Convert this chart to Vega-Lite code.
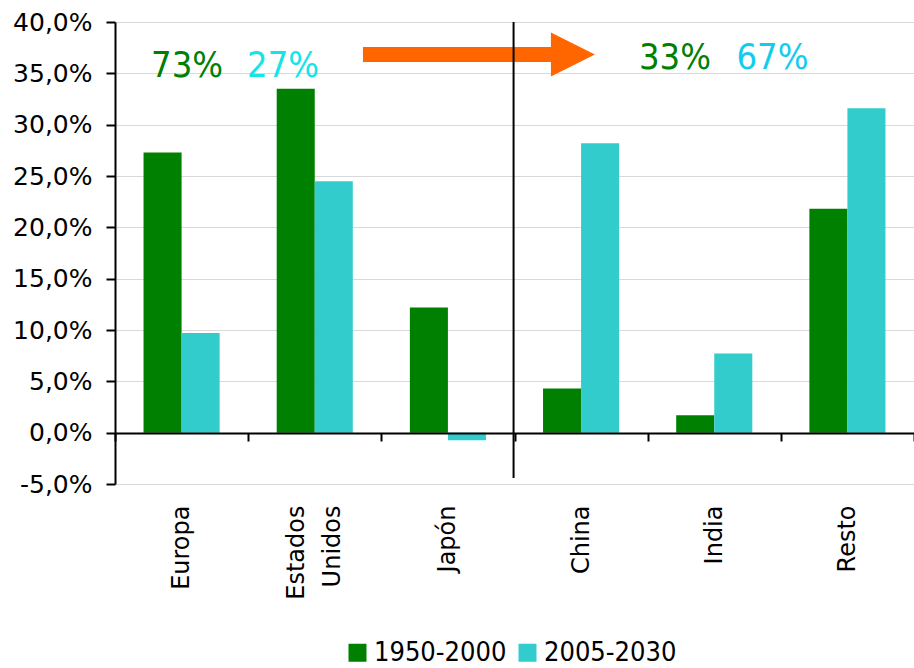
{
  "$schema": "https://vega.github.io/schema/vega-lite/v6.json",
  "width": 799,
  "height": 462,
  "autosize": {"type": "none"},
  "padding": {"left": 115, "top": 22, "right": 0, "bottom": 184},
  "background": "white",
  "config": {"view": {"stroke": null}},
  "layer": [
    {
      "data": {"values": [
        {"region": "Europa", "periodo": "1950-2000", "v": 0.273},
        {"region": "Europa", "periodo": "2005-2030", "v": 0.097},
        {"region": "Estados Unidos", "periodo": "1950-2000", "v": 0.335},
        {"region": "Estados Unidos", "periodo": "2005-2030", "v": 0.245},
        {"region": "Japón", "periodo": "1950-2000", "v": 0.122},
        {"region": "Japón", "periodo": "2005-2030", "v": -0.0075},
        {"region": "China", "periodo": "1950-2000", "v": 0.043},
        {"region": "China", "periodo": "2005-2030", "v": 0.282},
        {"region": "India", "periodo": "1950-2000", "v": 0.017},
        {"region": "India", "periodo": "2005-2030", "v": 0.077},
        {"region": "Resto", "periodo": "1950-2000", "v": 0.218},
        {"region": "Resto", "periodo": "2005-2030", "v": 0.316}
      ]},
      "mark": {"type": "bar"},
      "encoding": {
        "x": {
          "field": "region", "type": "nominal", "title": null,
          "sort": ["Europa", "Estados Unidos", "Japón", "China", "India", "Resto"],
          "scale": {"paddingInner": 0, "paddingOuter": 0},
          "axis": {
            "orient": "bottom", "offset": -51, "zindex": 1,
            "domainColor": "black", "domainWidth": 2,
            "ticks": true, "tickBand": "extent", "tickSize": 8, "tickWidth": 2, "tickColor": "black",
            "labelAngle": -90, "labelAlign": "right", "labelBaseline": "middle",
            "labelPadding": 64, "labelFont": "DejaVu Sans", "labelFontSize": 24, "labelColor": "black",
            "labelLineHeight": 36,
            "labelOffset": {"condition": {"test": "datum.value == 'Estados Unidos'", "value": -18}, "value": 0},
            "labelExpr": "datum.label == 'Estados Unidos' ? ['Estados', 'Unidos'] : datum.label",
            "grid": false
          }
        },
        "xOffset": {"field": "periodo", "type": "nominal", "scale": {"paddingInner": 0, "paddingOuter": 0.75}},
        "y": {
          "field": "v", "type": "quantitative", "title": null,
          "scale": {"domain": [-0.05, 0.4], "nice": false, "zero": false},
          "axis": {
            "values": [-0.05, 0, 0.05, 0.1, 0.15, 0.2, 0.25, 0.3, 0.35, 0.4],
            "labelExpr": "(datum.value < 0 ? '-' : '') + replace(format(abs(datum.value), '.1%'), '.', ',')",
            "domainColor": "black", "domainWidth": 2,
            "tickColor": "black", "tickWidth": 2, "tickSize": 9,
            "labelPadding": 14, "labelFont": "DejaVu Sans", "labelFontSize": 25, "labelColor": "black",
            "grid": true, "gridColor": "#d9d9d9", "gridWidth": 1
          }
        },
        "color": {
          "field": "periodo", "type": "nominal",
          "scale": {"domain": ["1950-2000", "2005-2030"], "range": ["#008000", "#33CCCC"]},
          "legend": {
            "orient": "none", "legendX": 229, "legendY": 617, "direction": "horizontal", "title": null,
            "symbolType": "square", "symbolSize": 324, "symbolStrokeWidth": 0,
            "labelFont": "DejaVu Sans Condensed", "labelFontSize": 27, "labelColor": "black",
            "labelOffset": 3, "columnPadding": 7
          }
        }
      }
    },
    {
      "layer": [
        {
          "data": {"values": [{"pos": 1.862, "pos2": 3.28, "v": 0.3683}]},
          "mark": {"type": "rule", "color": "#FF6600", "strokeWidth": 15, "strokeCap": "butt"},
          "encoding": {
            "x": {"field": "pos", "type": "quantitative", "scale": {"domain": [0, 6], "nice": false, "zero": false}, "axis": null},
            "x2": {"field": "pos2"},
            "y": {
              "field": "v", "type": "quantitative", "title": null,
              "axis": {
                "values": [-0.05, 0, 0.05, 0.1, 0.15, 0.2, 0.25, 0.3, 0.35, 0.4],
                "labelExpr": "(datum.value < 0 ? '-' : '') + replace(format(abs(datum.value), '.1%'), '.', ',')",
                "domainColor": "black", "domainWidth": 2,
                "tickColor": "black", "tickWidth": 2, "tickSize": 9,
                "labelPadding": 14, "labelFont": "DejaVu Sans", "labelFontSize": 25, "labelColor": "black",
                "grid": true, "gridColor": "#d9d9d9", "gridWidth": 1
              }
            }
          }
        },
        {
          "data": {"values": [{"pos": 3.439, "v": 0.3683}]},
          "mark": {"type": "point", "shape": "M-1,-1L1,0L-1,1Z", "filled": true, "fill": "#FF6600", "opacity": 1, "strokeWidth": 0, "size": 1936},
          "encoding": {
            "x": {"field": "pos", "type": "quantitative", "axis": null},
            "y": {
              "field": "v", "type": "quantitative", "title": null,
              "axis": {
                "values": [-0.05, 0, 0.05, 0.1, 0.15, 0.2, 0.25, 0.3, 0.35, 0.4],
                "labelExpr": "(datum.value < 0 ? '-' : '') + replace(format(abs(datum.value), '.1%'), '.', ',')",
                "domainColor": "black", "domainWidth": 2,
                "tickColor": "black", "tickWidth": 2, "tickSize": 9,
                "labelPadding": 14, "labelFont": "DejaVu Sans", "labelFontSize": 25, "labelColor": "black",
                "grid": true, "gridColor": "#d9d9d9", "gridWidth": 1
              }
            }
          }
        },
        {
          "data": {"values": [{"pos": 2.993, "v": 0.4, "v2": -0.0442}]},
          "mark": {"type": "rule", "color": "black", "strokeWidth": 2},
          "encoding": {
            "x": {"field": "pos", "type": "quantitative", "axis": null},
            "y": {
              "field": "v", "type": "quantitative", "title": null,
              "axis": {
                "values": [-0.05, 0, 0.05, 0.1, 0.15, 0.2, 0.25, 0.3, 0.35, 0.4],
                "labelExpr": "(datum.value < 0 ? '-' : '') + replace(format(abs(datum.value), '.1%'), '.', ',')",
                "domainColor": "black", "domainWidth": 2,
                "tickColor": "black", "tickWidth": 2, "tickSize": 9,
                "labelPadding": 14, "labelFont": "DejaVu Sans", "labelFontSize": 25, "labelColor": "black",
                "grid": true, "gridColor": "#d9d9d9", "gridWidth": 1
              }
            },
            "y2": {"field": "v2"}
          }
        },
        {
          "data": {"values": [
            {"pos": 0.541, "v": 0.3464, "t": "73%", "c": "#008000"},
            {"pos": 1.262, "v": 0.3464, "t": "27%", "c": "#14E4E8"},
            {"pos": 4.205, "v": 0.3542, "t": "33%", "c": "#008000"},
            {"pos": 4.937, "v": 0.3542, "t": "67%", "c": "#12CCF0"}
          ]},
          "mark": {"type": "text", "font": "DejaVu Sans Condensed", "fontSize": 36, "align": "center", "baseline": "alphabetic"},
          "encoding": {
            "x": {"field": "pos", "type": "quantitative", "axis": null},
            "y": {
              "field": "v", "type": "quantitative", "title": null,
              "axis": {
                "values": [-0.05, 0, 0.05, 0.1, 0.15, 0.2, 0.25, 0.3, 0.35, 0.4],
                "labelExpr": "(datum.value < 0 ? '-' : '') + replace(format(abs(datum.value), '.1%'), '.', ',')",
                "domainColor": "black", "domainWidth": 2,
                "tickColor": "black", "tickWidth": 2, "tickSize": 9,
                "labelPadding": 14, "labelFont": "DejaVu Sans", "labelFontSize": 25, "labelColor": "black",
                "grid": true, "gridColor": "#d9d9d9", "gridWidth": 1
              }
            },
            "text": {"field": "t"},
            "color": {"field": "c", "type": "nominal", "scale": null, "legend": null}
          }
        }
      ]
    }
  ],
  "resolve": {"scale": {"x": "independent", "color": "independent"}}
}
